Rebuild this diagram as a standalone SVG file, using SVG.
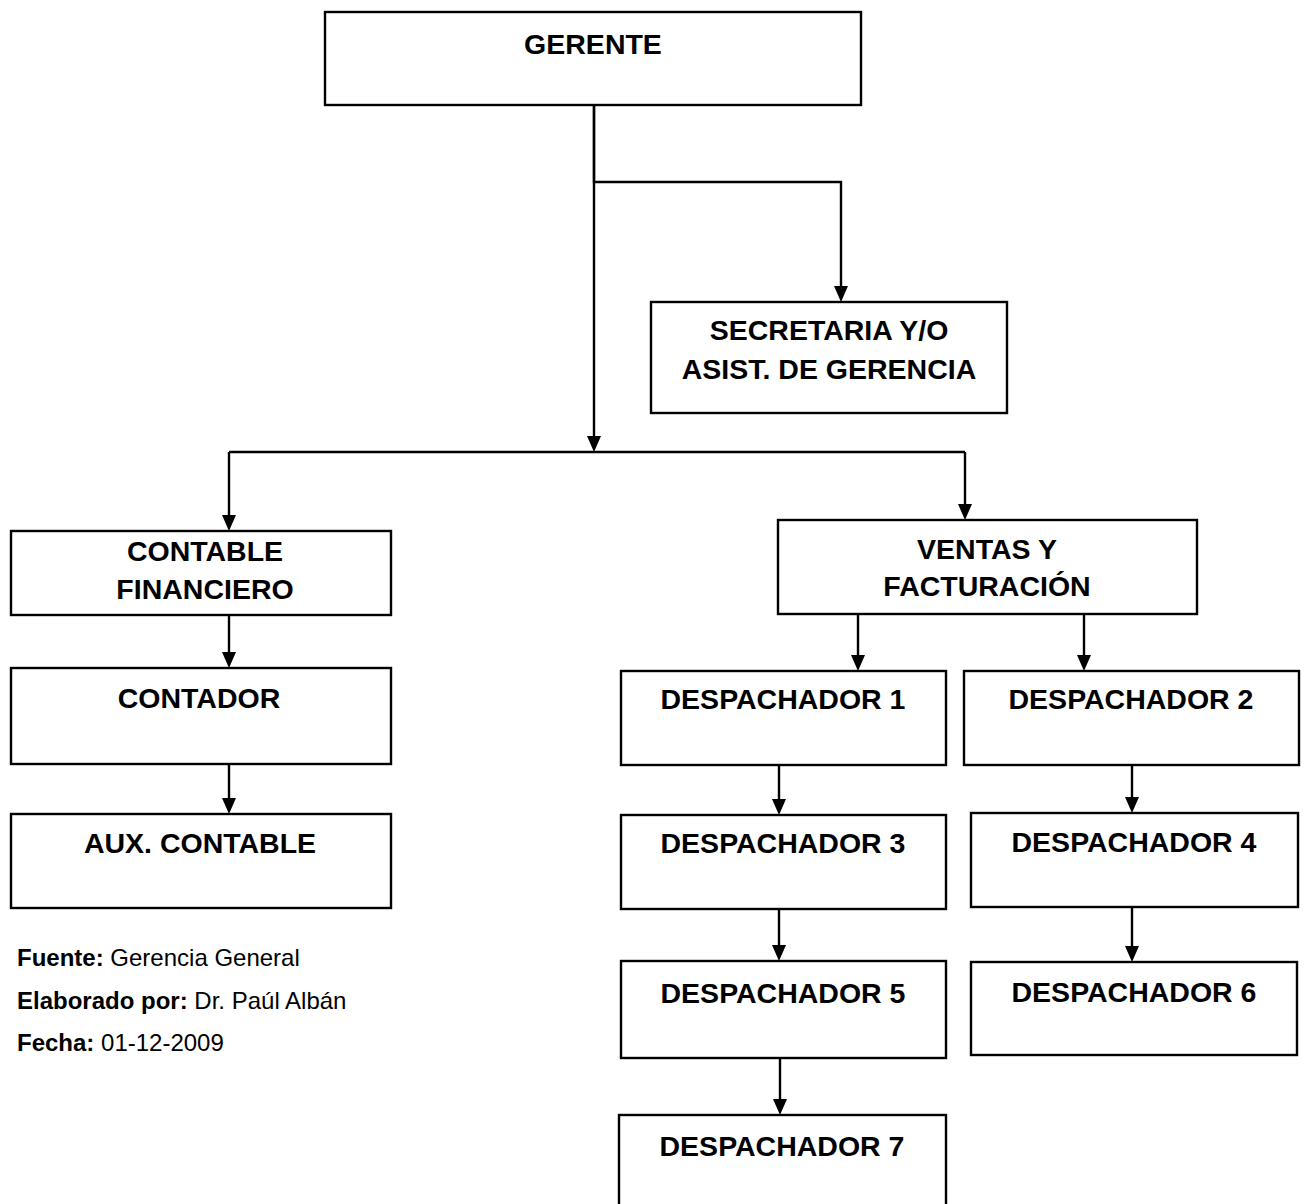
<svg xmlns="http://www.w3.org/2000/svg" width="1307" height="1204" viewBox="0 0 1307 1204">
  <style>
    .box { fill: #ffffff; stroke: #000000; stroke-width: 2.4; }
    .lbl { font-family: "Liberation Sans", Arial, sans-serif; font-weight: bold; font-size: 28.5px; fill: #000000; text-anchor: middle; }
    .wire { fill: none; stroke: #000000; stroke-width: 2.4; }
    .note { font-family: "Liberation Sans", Arial, sans-serif; font-size: 24px; fill: #000000; }
    .note tspan.b { font-weight: bold; }
  </style>
  <rect width="1307" height="1204" fill="#ffffff"/>

  <!-- reporting lines -->
  <g id="connectors">
    <path class="wire" d="M594,105 V182 H841 V290"/>
    <path class="wire" d="M594,105 V440"/>
    <path class="wire" d="M229,452 H965"/>
    <path class="wire" d="M229,452 V520"/>
    <path class="wire" d="M965,452 V508"/>
    <path class="wire" d="M229,615 V656"/>
    <path class="wire" d="M229,764 V802"/>
    <path class="wire" d="M858,614 V659"/>
    <path class="wire" d="M1084,614 V659"/>
    <path class="wire" d="M779,765 V803"/>
    <path class="wire" d="M1132,765 V801"/>
    <path class="wire" d="M779,909 V949"/>
    <path class="wire" d="M1132,907 V950"/>
    <path class="wire" d="M780,1058 V1103"/>
    <!-- arrowheads -->
    <g fill="#000000">
      <path d="M834,286 L848,286 L841,302 Z"/>
      <path d="M587,436 L601,436 L594,452 Z"/>
      <path d="M222,515 L236,515 L229,531 Z"/>
      <path d="M958,504 L972,504 L965,520 Z"/>
      <path d="M222,652 L236,652 L229,668 Z"/>
      <path d="M222,798 L236,798 L229,814 Z"/>
      <path d="M851,655 L865,655 L858,671 Z"/>
      <path d="M1077,655 L1091,655 L1084,671 Z"/>
      <path d="M772,799 L786,799 L779,815 Z"/>
      <path d="M1125,797 L1139,797 L1132,813 Z"/>
      <path d="M772,945 L786,945 L779,961 Z"/>
      <path d="M1125,946 L1139,946 L1132,962 Z"/>
      <path d="M773,1099 L787,1099 L780,1115 Z"/>
    </g>
  </g>

  <g id="gerente">
    <rect class="box" x="325" y="12" width="536" height="93"/>
    <text class="lbl" x="593" y="54">GERENTE</text>
  </g>
  <g id="secretaria">
    <rect class="box" x="651" y="302" width="356" height="111"/>
    <text class="lbl" x="829" y="340">SECRETARIA Y/O</text>
    <text class="lbl" x="829" y="379">ASIST. DE GERENCIA</text>
  </g>
  <g id="contable-financiero">
    <rect class="box" x="11" y="531" width="380" height="84"/>
    <text class="lbl" x="205" y="561">CONTABLE</text>
    <text class="lbl" x="205" y="599">FINANCIERO</text>
  </g>
  <g id="contador">
    <rect class="box" x="11" y="668" width="380" height="96"/>
    <text class="lbl" x="199" y="708">CONTADOR</text>
  </g>
  <g id="aux-contable">
    <rect class="box" x="11" y="814" width="380" height="94"/>
    <text class="lbl" x="200" y="853">AUX. CONTABLE</text>
  </g>
  <g id="ventas-facturacion">
    <rect class="box" x="778" y="520" width="419" height="94"/>
    <text class="lbl" x="987" y="559">VENTAS Y</text>
    <text class="lbl" x="987" y="596">FACTURACIÓN</text>
  </g>
  <g id="despachador-1">
    <rect class="box" x="621" y="671" width="325" height="94"/>
    <text class="lbl" x="783" y="709">DESPACHADOR 1</text>
  </g>
  <g id="despachador-2">
    <rect class="box" x="964" y="671" width="335" height="94"/>
    <text class="lbl" x="1131" y="709">DESPACHADOR 2</text>
  </g>
  <g id="despachador-3">
    <rect class="box" x="621" y="815" width="325" height="94"/>
    <text class="lbl" x="783" y="853">DESPACHADOR 3</text>
  </g>
  <g id="despachador-4">
    <rect class="box" x="971" y="813" width="327" height="94"/>
    <text class="lbl" x="1134" y="852">DESPACHADOR 4</text>
  </g>
  <g id="despachador-5">
    <rect class="box" x="621" y="961" width="325" height="97"/>
    <text class="lbl" x="783" y="1003">DESPACHADOR 5</text>
  </g>
  <g id="despachador-6">
    <rect class="box" x="971" y="962" width="326" height="93"/>
    <text class="lbl" x="1134" y="1002">DESPACHADOR 6</text>
  </g>
  <g id="despachador-7">
    <rect class="box" x="619" y="1115" width="327" height="110"/>
    <text class="lbl" x="782" y="1156">DESPACHADOR 7</text>
  </g>

  <g id="nota">
    <text class="note" x="17" y="966"><tspan class="b">Fuente:</tspan> Gerencia General</text>
    <text class="note" x="17" y="1009"><tspan class="b">Elaborado por:</tspan> Dr. Paúl Albán</text>
    <text class="note" x="17" y="1051"><tspan class="b">Fecha:</tspan> 01-12-2009</text>
  </g>
</svg>
